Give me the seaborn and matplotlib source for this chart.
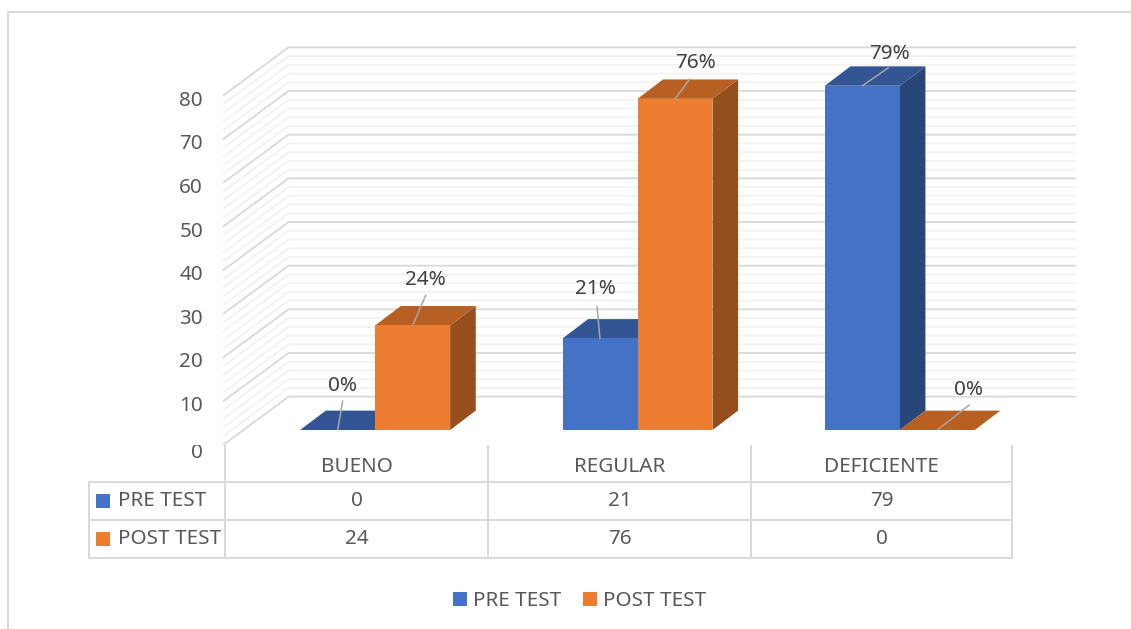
import matplotlib
matplotlib.use("Agg")
import matplotlib.pyplot as plt
import matplotlib.transforms as mtrans
from matplotlib.patches import Polygon, Rectangle, Patch
import pandas as pd
import seaborn as sns

# ---- data -------------------------------------------------------------
categories = ["BUENO", "REGULAR", "DEFICIENTE"]
series_names = ["PRE TEST", "POST TEST"]
pre_test = [0, 21, 79]
post_test = [24, 76, 0]
y_ticks = [0, 10, 20, 30, 40, 50, 60, 70, 80]

# ---- style ------------------------------------------------------------
W, H = 1131, 629
front = ["#4472C4", "#ED7D31"]
side = ["#294679", "#954F1C"]
top = ["#335593", "#B86023"]
GRID, MINOR, TXT = "#D9D9D9", "#F2F2F2", "#595959"
FS = 14.9

sns.set_theme(style="white")
plt.rcParams["font.family"] = ["Noto Sans", "DejaVu Sans"]

fig = plt.figure(figsize=(W / 100, H / 100), dpi=100, facecolor="white")

# pixel-space layer: frame, 3D wall and table rules
bg = fig.add_axes([0, 0, 1, 1], zorder=0)
bg.set_xlim(0, W)
bg.set_ylim(H, 0)
bg.axis("off")

PX_PER_UNIT = 4.367
for v in range(0, y_ticks[-1] + 1, 2):
    fy, by = 445 - PX_PER_UNIT * v, 396.7 - PX_PER_UNIT * v
    major = v % 10 == 0
    bg.plot([223, 288.5, 1076], [fy, by, by], color=GRID if major else MINOR,
            lw=1.3, solid_joinstyle="miter", solid_capstyle="butt", zorder=2 if major else 1)

rules = [([7, W], [12, 12]), ([8, 8], [12, H]),
         ([88.5, 1013], [482, 482]), ([88.5, 1013], [520, 520]), ([88, 1013], [558, 558]),
         ([88.5, 88.5], [481, 558]), ([225, 225], [445, 558]), ([488, 488], [445, 558]),
         ([751, 751], [445, 558]), ([1012, 1012], [445, 558])]
for xs, ys in rules:
    bg.plot(xs, ys, color=GRID, lw=1.4, solid_capstyle="butt")

# table contents
col_x = [356.5, 619.5, 881.5]
row_y = [500, 538]
for name, vals, colr, ry in zip(series_names, [pre_test, post_test], front, row_y):
    bg.add_patch(Rectangle((96, ry - 6), 14, 14, color=colr, lw=0))
    bg.text(118, ry + 1, name, color=TXT, fontsize=FS, va="center", ha="left")
    for x, v in zip(col_x, vals):
        bg.text(x, ry + 1, str(v), color=TXT, fontsize=FS, va="center", ha="center")

# ---- bars -------------------------------------------------------------
ax = fig.add_axes([244 / W, (H - 430) / H, 787 / W, 348.6 / H], zorder=1)
ax.patch.set_alpha(0)
df = pd.DataFrame({
    "categoria": categories * 2,
    "serie": [series_names[0]] * 3 + [series_names[1]] * 3,
    "valor": pre_test + post_test,
})
sns.barplot(data=df, x="categoria", y="valor", hue="serie", order=categories,
            hue_order=series_names, palette=front, width=0.5716, gap=0,
            saturation=1, legend=False, ax=ax, zorder=5, linewidth=0)
ax.set_xlim(-0.5, 2.5)
ax.set_ylim(0, y_ticks[-1])
ax.set_xlabel("")
ax.set_ylabel("")
for s in ax.spines.values():
    s.set_visible(False)

# depth of each bar, expressed in data units
DX = 25.6 / 787 * 3
DY = 19.4 / 348.6 * y_ticks[-1]

bars = [p for p in ax.patches if isinstance(p, Rectangle)]
bars_pre = [b for b in bars if abs(b.get_facecolor()[0] - 0x44 / 255) < 0.02][:3]
bars_post = [b for b in bars if abs(b.get_facecolor()[0] - 0xED / 255) < 0.02][:3]
for group, si, sc, tc in ((bars_pre, 0, side[0], top[0]), (bars_post, 1, side[1], top[1])):
    for b in group:
        x0, w, h = b.get_x(), b.get_width(), b.get_height()
        x1 = x0 + w
        if h > 0:
            ax.add_patch(Polygon([(x1, 0), (x1 + DX, DY), (x1 + DX, h + DY), (x1, h)],
                                 closed=True, fc=sc, ec="none", zorder=3 + si, clip_on=False))
        ax.add_patch(Polygon([(x0, h), (x0 + DX, h + DY), (x1 + DX, h + DY), (x1, h)],
                             closed=True, fc=tc, ec="none", zorder=3 + si, clip_on=False))

# leader-line data labels: (dx, dy of line end, dx, dy of text centre) in pixels
label_geom = {
    (0, 0): (5, 29, 5, 44), (0, 1): (13, 30, 13, 45),
    (1, 0): (-3, 32, -5, 49), (1, 1): (15, 20, 21, 36),
    (2, 0): (26, 18, 27, 32), (2, 1): (32, 25, 31, 40),
}
for si, (group, vals) in enumerate(zip((bars_pre, bars_post), (pre_test, post_test))):
    for ci, (b, v) in enumerate(zip(group, vals)):
        cx = b.get_x() + b.get_width() / 2
        lx, ly, tx, ty = label_geom[(ci, si)]
        ax.annotate("", xy=(cx, v), xytext=(lx, ly), textcoords="offset pixels",
                    arrowprops=dict(arrowstyle="-", color="#A6A6A6", lw=1.1,
                                    shrinkA=0, shrinkB=0), zorder=8, annotation_clip=False)
        ax.annotate(f"{v}%", xy=(cx, v), xytext=(tx, ty), textcoords="offset pixels",
                    ha="center", va="center", color="#404040", fontsize=FS, zorder=9,
                    annotation_clip=False)

# ---- axes text --------------------------------------------------------
ax.set_yticks(y_ticks)
ax.set_yticklabels([str(v) for v in y_ticks])
ax.set_xticks(range(len(categories)))
ax.set_xticklabels(categories)
ax.tick_params(axis="both", length=0, labelsize=FS, labelcolor=TXT)
ax.tick_params(axis="y", pad=29.5)
ax.tick_params(axis="x", pad=19.5)

def shift(dx, dy):
    return mtrans.ScaledTranslation(dx / 100, dy / 100, fig.dpi_scale_trans)

for lab, v in zip(ax.get_yticklabels(), y_ticks):
    lab.set_transform(lab.get_transform() + shift(0, -20.5 if v == 0 else -17))
    if v == 0:
        lab.set_clip_box(mtrans.Bbox([[0, 0], [W, H - 445]]))
        lab.set_clip_on(True)
for lab, d in zip(ax.get_xticklabels(), [a - b for a, b in zip(col_x, [375, 637.4, 899.8])]):
    lab.set_transform(lab.get_transform() + shift(d, 0))

# ---- legend -----------------------------------------------------------
handles = [Patch(color=c, label=n, lw=0) for c, n in zip(front, series_names)]
ax.legend(handles=handles, loc="center", bbox_to_anchor=(579.5 / W, 1 - 601 / H),
          bbox_transform=fig.transFigure, ncol=2, frameon=False, fontsize=FS,
          labelcolor=TXT, handlelength=0.67, handleheight=0.67, handletextpad=0.29,
          columnspacing=1.05, borderpad=0)

fig.savefig("out.png", dpi=100)
